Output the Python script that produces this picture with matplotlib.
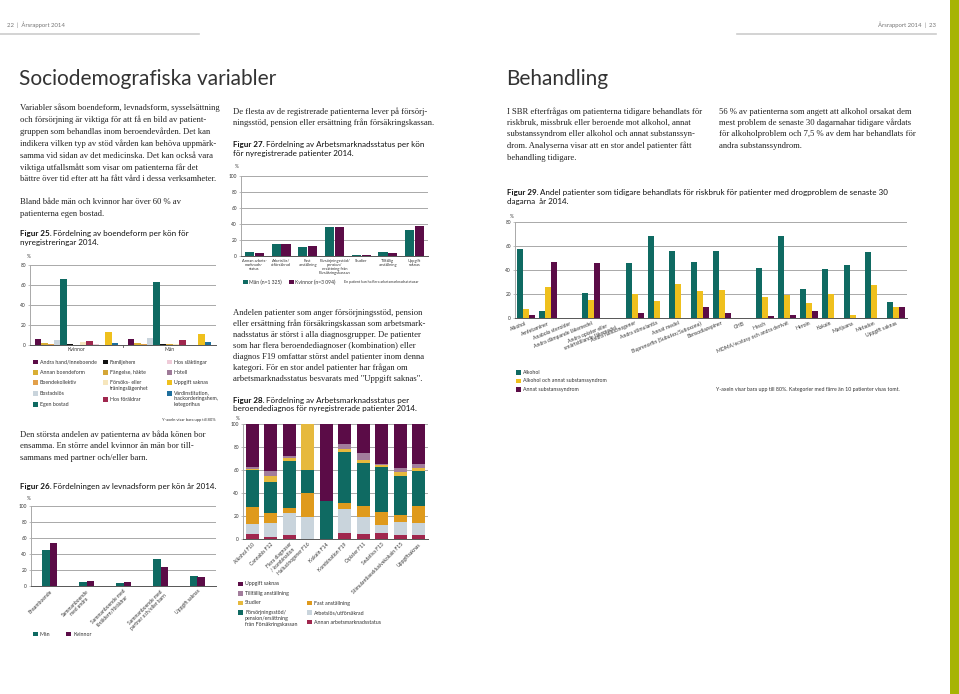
import numpy as np
import matplotlib
matplotlib.use('Agg')
import matplotlib.pyplot as plt
from matplotlib.patches import Rectangle

# ---------------- data ----------------
# Figur 25 - boendeform per kön
boende_cats = ['Andra hand/inneboende', 'Annan boendeform', 'Boendekollektiv', 'Bostadslös',
               'Egen bostad', 'Familjehem', 'Fängelse, häkte', 'Försöks- eller\nträningslägenhet',
               'Hos föräldrar', 'Hos släktingar', 'Hotell', 'Uppgift saknas',
               'Vårdinstitution,\ninackorderingshem,\nkategorihus']
boende_kvinnor = [6.0, 2.0, 1.0, 4.5, 65.5, 0.5, 0.3, 2.5, 3.8, 0.6, 0.2, 13.0, 2.0]
boende_man = [6.3, 2.3, 1.0, 6.5, 62.5, 0.7, 0.5, 1.0, 5.0, 0.3, 0.2, 11.0, 2.5]
boende_groups = ['Kvinnor', 'Män']

# Figur 26 - levnadsform
levnad_cats = ['Ensamboende', 'Sammanboende\nmed andra', 'Sammanboende med\nföräldern/föräldrar',
               'Sammanboende med\npartner och/eller barn', 'Uppgift saknas']
levnad_man = [45.4, 5.4, 3.8, 33.3, 12.9]
levnad_kvinnor = [54.0, 6.2, 5.4, 24.2, 11.3]

# Figur 27 - arbetsmarknadsstatus per kön
arb_cats = ['Annan arbets-\nmarknads-\nstatus', 'Arbetslös/\nutförsäkrad', 'Fast\nanställning',
            'Försörjningsstöd/\npension/\nersättning från\nFörsäkringskassan', 'Studier',
            'Tillfällig\nanställning', 'Uppgift\nsaknas']
arb_man = [5.4, 14.6, 11.7, 36.7, 1.7, 4.6, 32.9]
arb_kvinnor = [3.3, 14.6, 12.5, 36.3, 1.7, 3.8, 37.5]

# Figur 28 - arbetsmarknadsstatus per beroendediagnos (stacked, bottom -> top)
diag_cats = ['Alkohol F10', 'Cannabis F12', 'Flera diagnoser\n/ kombination', 'Hallucinogener F16',
             'Kokain F14', 'Kombination F19', 'Opiater F11', 'Sedativa F13',
             'Stimulantiaexklusivekokain F15', 'Uppgiftsaknas']
status_names = ['Annan arbetsmarknadsstatus', 'Arbetslös/utförsäkrad', 'Fast anställning',
                'Försörjningsstöd/\npension/ersättning\nfrån Försäkringskassan', 'Studier',
                'Tillfällig anställning', 'Uppgift saknas']
st_annan = [4, 2, 3.5, 0, 0, 5, 4, 5, 3.5, 3.5]
st_arbetslos = [9, 11.5, 19.5, 19.5, 0, 21, 15.5, 7.5, 11, 10.5]
st_fast = [15, 9.5, 4, 20.5, 0, 5, 9.5, 11, 6.5, 15]
st_forsorj = [32, 26.5, 41, 20, 33, 45, 37, 39.5, 33.5, 30]
st_studier = [1, 5, 2, 40, 0, 2, 3, 1, 3.5, 2.5]
st_tillf = [2, 5, 2, 0, 0, 5, 6, 1.5, 3.5, 4]
st_uppgift = [37, 40.5, 28, 0, 67, 17, 25, 34.5, 38.5, 34.5]

# Figur 29 - tidigare behandlade
drog_cats = ['Alkohol', 'Amfetaminer', 'Anabola steroider', 'Andra dämpande läkemedel',
             'Andra opiater eller\nsmärtstillande läkemedel', 'Andra hallucinogener',
             'Andra stimulantia', 'Annat medel', 'Buprenorfin (Subutex/Suboxone)',
             'Bensodiazepiner', 'GHB', 'Hasch', 'MDMA/ecstasy och andra derivat', 'Heroin',
             'Kokain', 'Marijuana', 'Metadon', 'Uppgift saknas']
beh_alkohol = [57.8, 5.5, 0, 20.5, 0, 45.8, 68.0, 55.5, 46.7, 55.8, 0, 42.0, 68.0, 24.2, 40.8, 44.4, 54.7, 13.3]
beh_alk_annat = [7.8, 25.5, 0, 15.0, 0, 20.3, 13.9, 28.3, 22.8, 23.6, 0, 17.8, 19.4, 12.2, 20.3, 2.8, 27.8, 9.2]
beh_annat = [2.8, 46.7, 0, 46.0, 0, 4.2, 0, 0, 8.9, 4.2, 0, 1.7, 2.5, 6.1, 0, 0, 0, 9.2]

# ---------------- style ----------------
TEAL = '#0f6a62'
PURPLE = '#5b0c47'
YELLOW = '#efc01d'
ORANGE = '#df9a1c'
GREYBLUE = '#c9d4dc'
CRIMSON = '#a0274e'
MAUVE = '#a27d9c'
STUD = '#e6b93d'
boende_colors = [PURPLE, '#d8ae35', '#e2a04a', GREYBLUE, TEAL, '#111111', '#d4a637',
                 '#f6e6bd', CRIMSON, '#efcbd8', '#9e7a98', YELLOW, '#1e6f9d']

W, H = 959, 694
fig = plt.figure(figsize=(W / 100, H / 100), dpi=100)
fig.patch.set_facecolor('white')
SERIF = 'Liberation Serif'
SANS = 'Lato'
GRID = '#a9a9a9'
BODY_FS = 6.25
CAP_FS = 5.8
renderer = fig.canvas.get_renderer()


def fx(x):
    return x / W


def fy(y):
    return 1 - y / H


def txt(x, y, s, **kw):
    kw.setdefault('va', 'center')
    return fig.text(fx(x), fy(y), s, **kw)


def body(x, y, lines, step=11.5):
    for i, l in enumerate(lines):
        txt(x, y + i * step, l, family=SERIF, fontsize=BODY_FS, color='#222222')


def caption(x, y, num, lines, step=8.5):
    t = txt(x, y, 'Figur %d.' % num, family=SANS, fontsize=CAP_FS, weight='bold', color='#111111')
    w = t.get_window_extent(renderer).width
    txt(x + w + 1.5, y, lines[0], family=SANS, fontsize=CAP_FS, color='#111111')
    for i, l in enumerate(lines[1:]):
        txt(x, y + (i + 1) * step, l, family=SANS, fontsize=CAP_FS, color='#111111')


def swatch(x, y, c, s=4.5):
    fig.add_artist(Rectangle((fx(x), fy(y + s / 2)), s / W, s / H, transform=fig.transFigure,
                             color=c, lw=0))


def legend_label(x, y, lab, fs=3.8):
    if '\n' in lab:
        fig.text(fx(x), fy(y - 2.6), lab, family=SANS, fontsize=fs, color='#333333',
                 va='top', linespacing=1.2)
    else:
        txt(x, y, lab, family=SANS, fontsize=fs, color='#333333')


def make_ax(x0, y0, x1, y1, ymax, step):
    ax = fig.add_axes([fx(x0), fy(y1), (x1 - x0) / W, (y1 - y0) / H])
    ax.set_ylim(0, ymax)
    ax.set_yticks(np.arange(0, ymax + 1, step))
    ax.yaxis.grid(True, color=GRID, lw=0.7)
    ax.set_axisbelow(True)
    for s in ['top', 'right']:
        ax.spines[s].set_visible(False)
    ax.spines['left'].set_color(GRID)
    ax.spines['left'].set_linewidth(0.7)
    ax.spines['bottom'].set_color('#555555')
    ax.spines['bottom'].set_linewidth(0.7)
    ax.tick_params(axis='y', labelsize=3.4, length=1.5, width=0.5, color=GRID, pad=1.5,
                   labelcolor='#333333')
    ax.tick_params(axis='x', length=0)
    for lab in ax.get_yticklabels():
        lab.set_family(SANS)
    ax.set_facecolor('none')
    return ax


# ---------------- header ----------------
txt(7, 25, '22  |  Årsrapport 2014', family=SANS, fontsize=4.3, color='#777777')
txt(936, 25, 'Årsrapport 2014  |  23', family=SANS, fontsize=4.3, color='#777777', ha='right')
fig.add_artist(plt.Line2D([fx(0), fx(199)], [fy(34), fy(34)], color='#cccccc', lw=1.2))
fig.add_artist(plt.Line2D([fx(737), fx(936)], [fy(34), fy(34)], color='#cccccc', lw=1.2))
fig.add_artist(Rectangle((fx(950), 0), 9 / W, 1, transform=fig.transFigure, color='#a6b404', lw=0))

txt(19, 79, 'Sociodemografiska variabler', family=SANS, fontsize=15, color='#333333')
txt(506, 79, 'Behandling', family=SANS, fontsize=15, color='#333333')

# ---------------- left column text ----------------
body(20, 108, ['Variabler såsom boendeform, levnadsform, sysselsättning',
               'och försörjning är viktiga för att få en bild av patient-',
               'gruppen som behandlas inom beroendevården. Det kan',
               'indikera vilken typ av stöd vården kan behöva uppmärk-',
               'samma vid sidan av det medicinska. Det kan också vara',
               'viktiga utfallsmått som visar om patienterna får det',
               'bättre över tid efter att ha fått vård i dessa verksamheter.'], step=11.9)
body(20, 202, ['Bland både män och kvinnor har över 60 % av', 'patienterna egen bostad.'], step=11.9)
caption(20, 234, 25, ['Fördelning av boendeform per kön för', 'nyregistreringar 2014.'])

# ---------------- Figur 25 ----------------
txt(27, 257, '%', family=SANS, fontsize=3.4, color='#333333')
ax = make_ax(30, 265, 216, 345, 80, 20)
w25 = 0.069
for i, c in enumerate(boende_colors):
    off = (i - 6) * w25
    ax.bar(np.array([0.5, 1.5]) + off, [boende_kvinnor[i], boende_man[i]], width=w25, color=c, lw=0)
ax.set_xlim(0, 2)
ax.set_xticks([0.5, 1.5])
ax.set_xticklabels(boende_groups, fontsize=3.6, family=SANS, color='#333333')
ax.tick_params(axis='x', pad=1.5)
ax.axvline(1, ymin=-0.03, ymax=0, color='#555555', lw=0.6, clip_on=False)

leg25 = [(33, [362, 372.3, 382.7, 393.3, 404.3], [0, 1, 2, 3, 4]),
         (103, [362, 372.3, 382.7, 399.5], [5, 6, 7, 8]),
         (167, [362, 372.3, 382.7, 393.3], [9, 10, 11, 12])]
for lx, rows, idxs in leg25:
    for r, i in zip(rows, idxs):
        swatch(lx, r, boende_colors[i])
        legend_label(lx + 7, r, boende_cats[i])
txt(216, 420, 'Y-axeln visar bara upp till 80%', family=SANS, fontsize=3.0, color='#333333', ha='right')

body(20, 435, ['Den största andelen av patienterna av båda könen bor',
               'ensamma. En större andel kvinnor än män bor till-',
               'sammans med partner och/eller barn.'])
caption(20, 486, 26, ['Fördelningen av levnadsform per kön år 2014.'])

# ---------------- Figur 26 ----------------
txt(27, 498, '%', family=SANS, fontsize=3.4, color='#333333')
ax = make_ax(31, 506, 216, 586, 100, 20)
x = np.arange(len(levnad_cats))
ax.bar(x - 0.1, levnad_man, width=0.2, color=TEAL, lw=0)
ax.bar(x + 0.1, levnad_kvinnor, width=0.2, color=PURPLE, lw=0)
ax.set_xlim(-0.5, 4.5)
ax.set_xticks(x)
ax.set_xticklabels(levnad_cats, rotation=45, ha='right', rotation_mode='anchor', fontsize=3.6,
                   family=SANS, color='#333333', multialignment='center', linespacing=1.1)
ax.tick_params(axis='x', pad=2)
swatch(33, 634, TEAL)
txt(40, 634, 'Män', family=SANS, fontsize=3.8, color='#333333')
swatch(66, 634, PURPLE)
txt(73, 634, 'Kvinnor', family=SANS, fontsize=3.8, color='#333333')

# ---------------- middle column ----------------
body(233, 111.5, ['De flesta av de registrerade patienterna lever på försörj-',
                  'ningsstöd, pension eller ersättning från försäkringskassan.'])
caption(233, 145, 27, ['Fördelning av Arbetsmarknadsstatus per kön', 'för nyregistrerade patienter 2014.'])

txt(235, 166, '%', family=SANS, fontsize=3.4, color='#333333')
ax = make_ax(241, 176, 428, 256, 100, 20)
x = np.arange(len(arb_cats))
ax.bar(x - 0.185, arb_man, width=0.34, color=TEAL, lw=0)
ax.bar(x + 0.185, arb_kvinnor, width=0.34, color=PURPLE, lw=0)
ax.set_xlim(-0.5, 6.5)
ax.set_xticks(x)
ax.set_xticklabels(arb_cats, fontsize=2.9, family=SANS, color='#333333', linespacing=1.05, va='top')
ax.tick_params(axis='x', pad=2)
swatch(243, 282, TEAL)
txt(249, 282, 'Män (n=1 325)', family=SANS, fontsize=3.6, color='#333333')
swatch(289, 282, PURPLE)
txt(295, 282, 'Kvinnor (n=3 094)', family=SANS, fontsize=3.6, color='#333333')
txt(344, 282, 'En patient kan ha flera arbetsmarknadsstatusar', family=SANS, fontsize=2.6, color='#333333')

body(233, 313, ['Andelen patienter som anger försörjningsstöd, pension',
                'eller ersättning från försäkringskassan som arbetsmark-',
                'nadsstatus är störst i alla diagnosgrupper. De patienter',
                'som har flera beroendediagnoser (kombination) eller',
                'diagnos F19 omfattar störst andel patienter inom denna',
                'kategori. För en stor andel patienter har frågan om',
                'arbetsmarknadsstatus besvarats med "Uppgift saknas".'], step=11.0)
caption(233, 400, 28, ['Fördelning av Arbetsmarknadsstatus per',
                       'beroendediagnos för nyregistrerade patienter 2014.'], step=8.0)

# ---------------- Figur 28 ----------------
txt(236, 418, '%', family=SANS, fontsize=3.4, color='#333333')
ax = make_ax(243, 424, 428, 539, 100, 20)
stacks = [st_annan, st_arbetslos, st_fast, st_forsorj, st_studier, st_tillf, st_uppgift]
stack_colors = [CRIMSON, GREYBLUE, ORANGE, TEAL, STUD, MAUVE, PURPLE]
x = np.arange(len(diag_cats))
bottom = np.zeros(len(diag_cats))
for vals, c in zip(stacks, stack_colors):
    ax.bar(x, vals, bottom=bottom, width=0.7, color=c, lw=0)
    bottom += np.array(vals)
ax.set_xlim(-0.5, 9.5)
ax.set_xticks(x)
ax.set_xticklabels(diag_cats, rotation=45, ha='right', rotation_mode='anchor', fontsize=3.6,
                   family=SANS, color='#333333', multialignment='center', linespacing=1.1)
ax.tick_params(axis='x', pad=2)

leg28 = [(238, 584, 6), (238, 593.7, 5), (238, 603, 4), (238, 612.7, 3),
         (307, 603, 2), (307, 612.7, 1), (307, 622, 0)]
for lx, ly, i in leg28:
    swatch(lx, ly, stack_colors[i])
    legend_label(lx + 7, ly, status_names[i])

# ---------------- right column ----------------
body(507, 111.5, ['I SBR efterfrågas om patienterna tidigare behandlats för',
                  'riskbruk, missbruk eller beroende mot alkohol, annat',
                  'substanssyndrom eller alkohol och annat substanssyn-',
                  'drom. Analyserna visar att en stor andel patienter fått',
                  'behandling tidigare.'])
body(719, 111.5, ['56 % av patienterna som angett att alkohol orsakat dem',
                  'mest problem de senaste 30 dagarnahar tidigare vårdats',
                  'för alkoholproblem och 7,5 % av dem har behandlats för',
                  'andra substanssyndrom.'])
caption(507, 193, 29, ['Andel patienter som tidigare behandlats för riskbruk för patienter med drogproblem de senaste 30',
                       'dagarna  år 2014.'])

# ---------------- Figur 29 ----------------
txt(510, 216, '%', family=SANS, fontsize=3.4, color='#333333')
ax = make_ax(515, 222, 907, 318, 80, 20)
x = np.arange(len(drog_cats))
w29 = 0.275
ax.bar(x - w29, beh_alkohol, width=w29, color=TEAL, lw=0)
ax.bar(x, beh_alk_annat, width=w29, color=YELLOW, lw=0)
ax.bar(x + w29, beh_annat, width=w29, color=PURPLE, lw=0)
ax.set_xlim(-0.5, len(drog_cats) - 0.5)
ax.set_xticks(x)
ax.set_xticklabels(drog_cats, rotation=22, ha='right', rotation_mode='anchor', fontsize=3.7,
                   family=SANS, color='#333333', multialignment='center', linespacing=1.1)
ax.tick_params(axis='x', pad=2)

leg29 = [(TEAL, 'Alkohol'), (YELLOW, 'Alkohol och annat substanssyndrom'), (PURPLE, 'Annat substanssyndrom')]
for k, (c, lab) in enumerate(leg29):
    swatch(516, 372.3 + k * 8.5, c)
    txt(523, 372.3 + k * 8.5, lab, family=SANS, fontsize=3.8, color='#333333')
txt(716, 389.3, 'Y-axeln visar bara upp till 80%. Kategorier med färre än 10 patienter visas tomt.',
    family=SANS, fontsize=3.8, color='#333333')

fig.savefig('out.png', dpi=100)
